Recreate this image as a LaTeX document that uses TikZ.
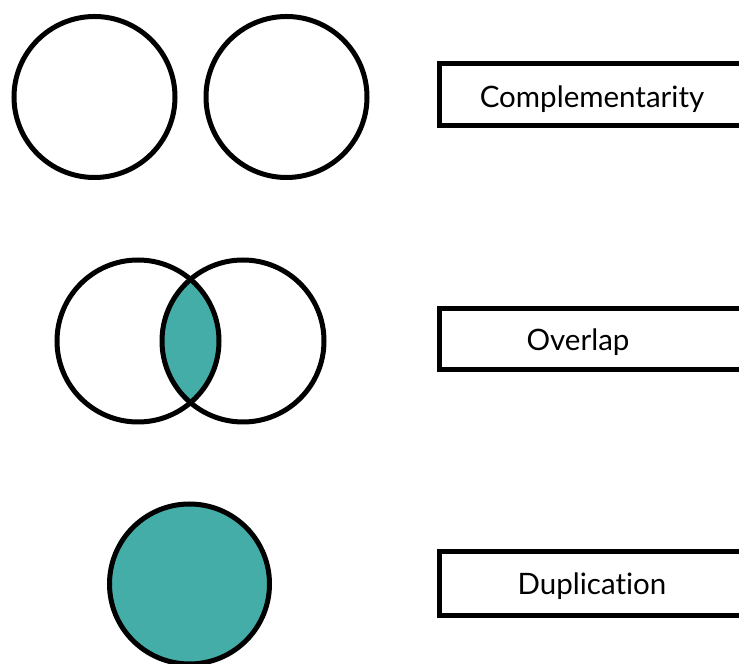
\documentclass[tikz,border=0pt]{standalone}
\usepackage{fontspec}
\setmainfont{Lato}[Ligatures=CommonOff]
\definecolor{teal}{HTML}{45ADA8}
\begin{document}
\begin{tikzpicture}[x=1pt,y=1pt,
  ring/.style={draw=black,line width=5pt},
  labelbox/.style={draw=black,line width=5pt},
  labeltext/.style={font=\fontsize{29.5}{34}\selectfont,anchor=center}]
\useasboundingbox (0,0) rectangle (739,664);
\clip (0,0) rectangle (739,664);
% complementarity: two separate circles
\node[ring,circle,minimum size=161pt,inner sep=0pt] (c1) at (94.5,567) {};
\node[ring,circle,minimum size=161pt,inner sep=0pt] (c2) at (286.5,567) {};
% overlap: shaded lens
\begin{scope}
  \clip (138,323) circle (81);
  \fill[teal] (243,323) circle (81);
\end{scope}
\node[ring,circle,minimum size=162pt,inner sep=0pt] (o1) at (138,323) {};
\node[ring,circle,minimum size=162pt,inner sep=0pt] (o2) at (243,323) {};
% duplication: one filled circle
\node[ring,circle,fill=teal,minimum size=160pt,inner sep=0pt] (d1) at (189.5,80) {};
% labels (boxes run past the right edge)
\draw[labelbox] (439,538) rectangle (760,600);
\node[labeltext] (t1) at (592,565) {Complementarity};
\draw[labelbox] (439,294) rectangle (760,355);
\node[labeltext] (t2) at (578,322) {Overlap};
\draw[labelbox] (439,48) rectangle (760,112);
\node[labeltext] (t3) at (592,78) {Duplication};
\end{tikzpicture}
\end{document}
